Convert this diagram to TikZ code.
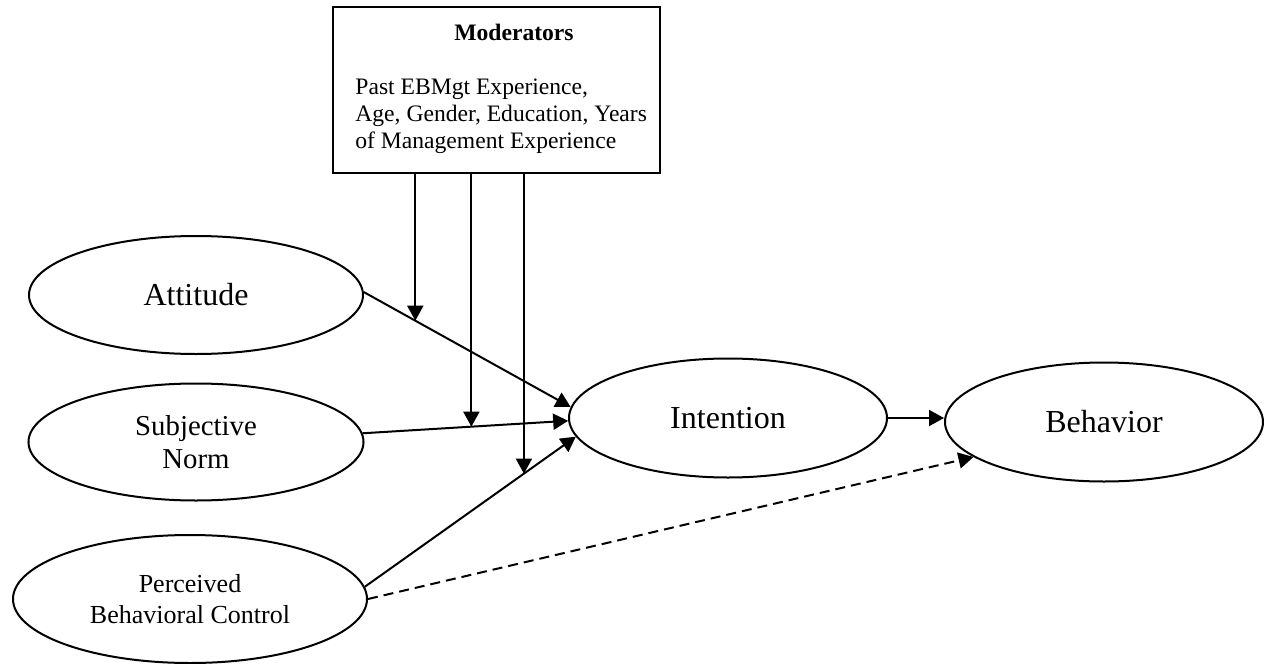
\documentclass[tikz,border=0pt]{standalone}
\usepackage{fontspec}
\setmainfont{Liberation Serif}
\usetikzlibrary{shapes.geometric,arrows.meta,positioning}

\tikzset{
	construct/.style = {ellipse, draw, line width=1pt, inner sep=0pt, align=center},
	arr/.style = {line width=1pt, -{Triangle[length=7.5pt,width=8pt]}},
}

\begin{document}
\begin{tikzpicture}[x=.5pt, y=-.5pt]

	\useasboundingbox (0,0) rectangle (1264,664);

	% moderators box
	\node[draw, line width=1pt, minimum width=163.5pt, minimum height=83pt, inner sep=0pt] (mod) at (496.5,90) {};
	\node[font=\bfseries\fontsize{11.8}{13.5}\selectfont, anchor=base] (modtitle) at (514,40) {Moderators};
	\node[font=\fontsize{11.8}{13.5}\selectfont, align=left, anchor=north west, inner sep=0pt] (modlist) at (355,78.4)
		{Past EBMgt Experience,\\Age, Gender, Education, Years\\of Management Experience};

	% constructs
	\node[construct, minimum width=167pt, minimum height=59pt, font=\fontsize{16}{19}\selectfont] (att) at (196,295) {Attitude};
	\node[construct, minimum width=167.5pt, minimum height=58.5pt, font=\fontsize{14.4}{16.5}\selectfont] (sn) at (196,442) {Subjective\\Norm};
	\node[construct, minimum width=177pt, minimum height=64pt, font=\fontsize{13}{15.8}\selectfont] (pbc) at (190,599) {Perceived\\Behavioral Control};
	\node[construct, minimum width=159pt, minimum height=59.5pt, font=\fontsize{16}{19}\selectfont] (int) at (728,418) {Intention};
	\node[construct, minimum width=159pt, minimum height=59.5pt, font=\fontsize{16}{19}\selectfont] (beh) at (1104,422) {Behavior};

	% paths to intention
	\draw[arr] (att.1) -- coordinate[pos=.249] (m1) (int.176);
	\draw[arr] (sn.3) -- coordinate[pos=.529] (m2) (int.181.5);
	\draw[arr] (pbc.4) -- coordinate[pos=.754] (m3) (int.187);

	% moderating effects
	\draw[arr] (mod.south -| m1) -- (m1);
	\draw[arr] (mod.south -| m2) -- (m2);
	\draw[arr] (mod.south -| m3) -- (m3);

	\draw[arr] (int.east) -- (int.east -| beh.west);
	\draw[arr, dash pattern=on 5pt off 3pt] (pbc.east) -- (beh.195);

\end{tikzpicture}
\end{document}
